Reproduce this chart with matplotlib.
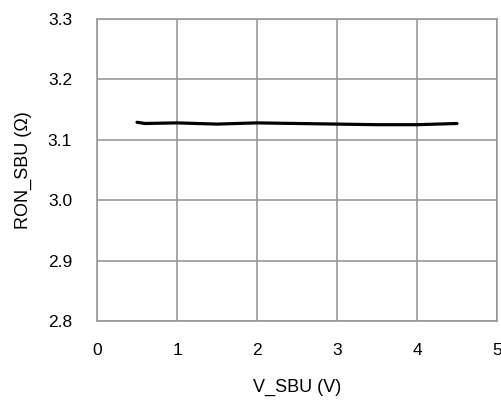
import numpy as np
import matplotlib.pyplot as plt

plt.rcParams['font.family'] = ['Liberation Sans', 'DejaVu Sans']

# datos
v_sbu = [0.5, 0.6, 1.0, 1.5, 2.0, 2.5, 3.0, 3.5, 4.0, 4.5]
ron_sbu = [3.129, 3.127, 3.128, 3.126, 3.128, 3.127, 3.126, 3.125, 3.125, 3.127]

xticks = [0, 1, 2, 3, 4, 5]
yticks = [2.8, 2.9, 3.0, 3.1, 3.2, 3.3]

fig = plt.figure(figsize=(5.01, 4.04), dpi=100)
ax = fig.add_axes([97 / 501, 1 - 321 / 404, 400 / 501, 302 / 404])

ax.plot(v_sbu, ron_sbu, color="black", linewidth=2.3, solid_capstyle="round")

ax.set_xlim(0, 5)
ax.set_ylim(2.8, 3.3)
ax.set_xticks(xticks)
ax.set_yticks(yticks)
ax.set_yticklabels([f"{t:.1f}" for t in yticks])

ax.grid(True, color="#999999", linewidth=1.2)
for s in ax.spines.values():
    s.set_color("#999999")
    s.set_linewidth(1.2)
ax.tick_params(length=0, labelsize=12.5)
ax.tick_params(axis="x", pad=15.5)
ax.tick_params(axis="y", pad=18)

ax.set_xlabel("V_SBU (V)", fontsize=13, labelpad=15)
ax.set_ylabel("RON_SBU (Ω)", fontsize=13, labelpad=11)

fig.savefig("out.png", dpi=100)
